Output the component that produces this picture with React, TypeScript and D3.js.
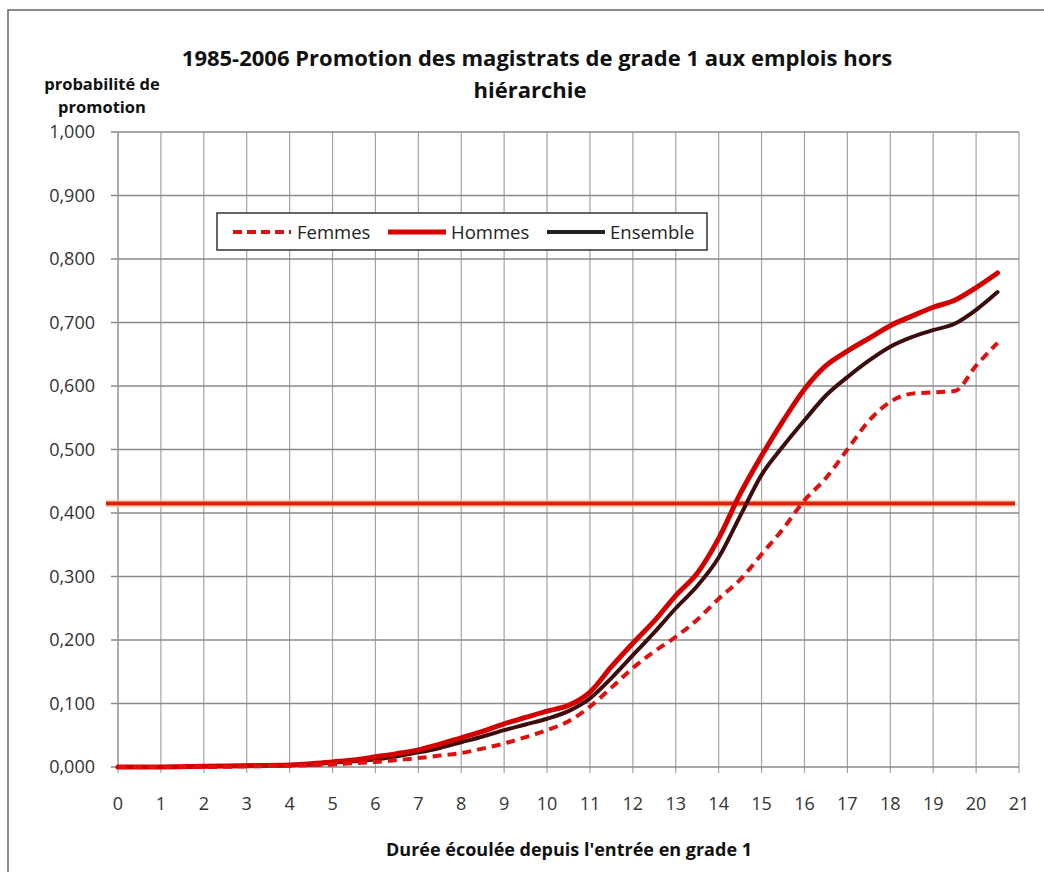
import React from "react";
import * as d3 from "d3";

const years = [0,1,2,3,4,4.5,5,5.5,6,6.5,7,7.5,8,8.5,9,9.5,10,10.5,11,11.5,12,12.5,13,13.5,14,14.5,15,15.5,16,16.5,17,17.5,18,18.5,19,19.5,20,20.5];
const hommes = [0,0,0.001,0.002,0.003,0.005,0.008,0.011,0.016,0.021,0.027,0.036,0.046,0.056,0.068,0.078,0.088,0.097,0.118,0.158,0.195,0.23,0.27,0.305,0.36,0.43,0.49,0.545,0.595,0.632,0.655,0.675,0.695,0.71,0.724,0.735,0.755,0.778];
const ensemble = [0,0,0.001,0.002,0.003,0.004,0.007,0.009,0.012,0.017,0.023,0.03,0.039,0.048,0.058,0.067,0.076,0.088,0.108,0.14,0.176,0.212,0.25,0.285,0.33,0.395,0.46,0.505,0.546,0.585,0.614,0.64,0.662,0.677,0.688,0.698,0.72,0.748];
const femmes = [0,0,0,0.001,0.002,0.003,0.004,0.006,0.008,0.011,0.014,0.018,0.022,0.029,0.037,0.047,0.058,0.072,0.095,0.125,0.156,0.182,0.205,0.232,0.265,0.295,0.335,0.375,0.42,0.455,0.5,0.545,0.575,0.588,0.59,0.592,0.632,0.668];
const referenceLevel = 0.415;
const xTicks = d3.range(0, 22);
const yTicks = d3.range(0, 11).map((i) => i / 10);
const titleLines = ["1985-2006 Promotion des magistrats de grade 1 aux emplois hors", "hiérarchie"];
const yTitleLines = ["probabilité de", "promotion"];
const xTitle = "Durée écoulée depuis l'entrée en grade 1";
const legendItems = [
  { name: "Femmes", color: "#e01010", dash: "9,5", width: 4 },
  { name: "Hommes", color: "#dd0000", dash: null, width: 5 },
  { name: "Ensemble", color: "#222222", dash: null, width: 4 },
];

const W = 1044, H = 872;
const x = d3.scaleLinear().domain([0, 21]).range([118, 1019]);
const y = d3.scaleLinear().domain([0, 1]).range([767, 132]);
const fmt = (v: number) => v.toFixed(3).replace(".", ",");

function mkLine(vals: number[]) {
  return d3.line<number>().x((_, i) => x(years[i])).y((d) => y(d)).curve(d3.curveMonotoneX)(vals) || "";
}

export default function App() {
  const font = "'Open Sans', sans-serif";
  return (
    <svg width={W} height={H} style={{ position: "absolute", left: 0, top: 0, background: "#fff" }} fontFamily={font}>
      <rect x={0} y={0} width={W} height={H} fill="#fff" />
      <rect x={8} y={10} width={W + 20} height={H + 20} fill="none" stroke="#666" strokeWidth={1.5} />
      {/* grid */}
      {xTicks.map((t) => (
        <line key={"vx" + t} x1={x(t)} x2={x(t)} y1={y(1)} y2={y(0) + 6} stroke="#a4a4a4" strokeWidth={1.2} />
      ))}
      {yTicks.map((t) => (
        <line key={"hy" + t} x1={x(0) - 7} x2={x(21)} y1={y(t)} y2={y(t)} stroke="#8a8a8a" strokeWidth={1.3} />
      ))}
      <line x1={x(0)} x2={x(0)} y1={y(1)} y2={y(0)} stroke="#999" strokeWidth={1.2} />
      {/* y tick labels */}
      {yTicks.map((t) => (
        <text key={"yl" + t} x={95} y={y(t) + 6} textAnchor="end" fontSize={18} fill="#333">{fmt(t)}</text>
      ))}
      {/* x tick labels */}
      {xTicks.map((t) => (
        <text key={"xl" + t} x={x(t)} y={810} textAnchor="middle" fontSize={18} fill="#333">{t}</text>
      ))}
      {/* reference line */}
      <line x1={106} x2={1015} y1={y(referenceLevel)} y2={y(referenceLevel)} stroke="#f7c890" strokeWidth={8} opacity={0.6} />
      <line x1={106} x2={1015} y1={y(referenceLevel)} y2={y(referenceLevel)} stroke="#e0200a" strokeWidth={4} />
      {/* series */}
      <path d={mkLine(ensemble)} fill="none" stroke="#3d0c0c" strokeWidth={4} strokeLinecap="round" />
      <path d={mkLine(hommes)} fill="none" stroke="#d40000" strokeWidth={5} strokeLinecap="round" />
      <path d={mkLine(femmes)} fill="none" stroke="#e01010" strokeWidth={4} strokeDasharray="9,6" />
      {/* legend */}
      <rect x={217} y={213} width={490} height={37} fill="#fff" stroke="#333" strokeWidth={1.5} />
      {legendItems.map((it, i) => {
        const lx = [233, 388, 547][i];
        const tx = [297, 451, 610][i];
        return (
          <g key={it.name}>
            <line x1={lx} x2={lx + 58} y1={232} y2={232} stroke={it.color} strokeWidth={it.width} strokeDasharray={it.dash || undefined} />
            <text x={tx} y={239} fontSize={18.5} fill="#222">{it.name}</text>
          </g>
        );
      })}
      {/* titles */}
      <text x={537} y={66} textAnchor="middle" fontSize={22} fontWeight="bold" fill="#111">{titleLines[0]}</text>
      <text x={530} y={98} textAnchor="middle" fontSize={22} fontWeight="bold" fill="#111">{titleLines[1]}</text>
      <text x={102} y={90} textAnchor="middle" fontSize={16.5} fontWeight="bold" fill="#111">{yTitleLines[0]}</text>
      <text x={102} y={113} textAnchor="middle" fontSize={16.5} fontWeight="bold" fill="#111">{yTitleLines[1]}</text>
      <text x={569} y={856} textAnchor="middle" fontSize={18} fontWeight="bold" fill="#111">{xTitle}</text>
    </svg>
  );
}
